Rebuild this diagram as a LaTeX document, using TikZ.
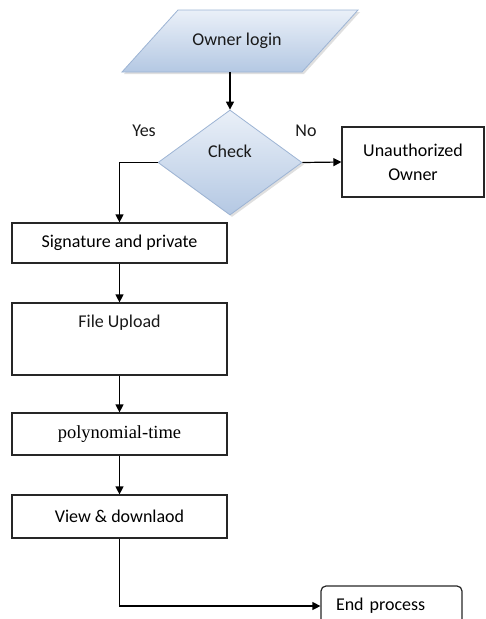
\documentclass[tikz,border=0pt]{standalone}
\usepackage{fontspec}
\setmainfont{Carlito}
\newfontfamily\seriffont{Liberation Serif}
\usetikzlibrary{shapes.geometric,arrows.meta,shadows}
\definecolor{fillA}{HTML}{EAF0F8}
\definecolor{fillB}{HTML}{B4C8E3}
\definecolor{edgeC}{HTML}{9DB4D4}
\begin{document}
\begin{tikzpicture}[x=1pt,y=-1pt,
  font=\fontsize{18}{24}\selectfont,
  box/.style={draw=black!85,line width=1.2pt,rectangle,inner sep=0pt},
  arr/.style={-{Triangle[length=8pt,width=8pt]},line width=1.2pt},
  txt/.style={inner sep=0pt,text=black!90},
  shapefill/.style={top color=fillA,bottom color=fillB,draw=edgeC,line width=0.8pt,
    drop shadow={opacity=0.25,shadow xshift=2pt,shadow yshift=-2pt}}]
\useasboundingbox (0,0) rectangle (486,619);
\clip (0,0) rectangle (486,619);

% start parallelogram
\path[shapefill] (178,10) -- (358,10) -- (302,72) -- (122,72) -- cycle;
\node[txt] (login) at (237,41) {Owner login};
\coordinate (loginb) at (230,72);

% decision
\node[diamond,shapefill,minimum width=144pt,minimum height=105pt,inner sep=0pt,shape aspect=1.37] (check) at (230,162.5) {};
\node[txt] (checktxt) at (230,151) {Check};
\node[txt] (yes) at (144,131) {Yes};
\node[txt] (no) at (306,131) {No};

% boxes
\node[box,minimum width=142pt,minimum height=70pt,align=center] (unauth) at (413,162) {Unauthorized\\Owner};
\node[box,minimum width=215pt,minimum height=40pt] (sig) at (119.5,243) {Signature and private};
\node[box,minimum width=215pt,minimum height=72pt] (upload) at (119.5,339) {};
\node[txt] (uploadtxt) at (119.5,323) {File Upload};
\node[box,minimum width=215pt,minimum height=42pt,font=\seriffont\fontsize{18.5}{22}\selectfont] (poly) at (119.5,434) {polynomial-time};
\node[box,minimum width=215pt,minimum height=43pt] (view) at (119.5,516.5) {View \& downlaod};
\node[box,rounded corners=5pt,minimum width=141pt,minimum height=40pt,text width=111pt,align=left] (endp) at (391.5,606) {End process};

% connectors
\draw[arr] (loginb) -- (check.north);
\draw[arr] (check.east) -- (unauth.west);
\draw[arr] (check.west) -| (sig.north);
\draw[arr] (sig.south) -- (upload.north);
\draw[arr] (upload.south) -- (poly.north);
\draw[arr] (poly.south) -- (view.north);
\draw[arr] (view.south) |- (endp.west);
\end{tikzpicture}
\end{document}
